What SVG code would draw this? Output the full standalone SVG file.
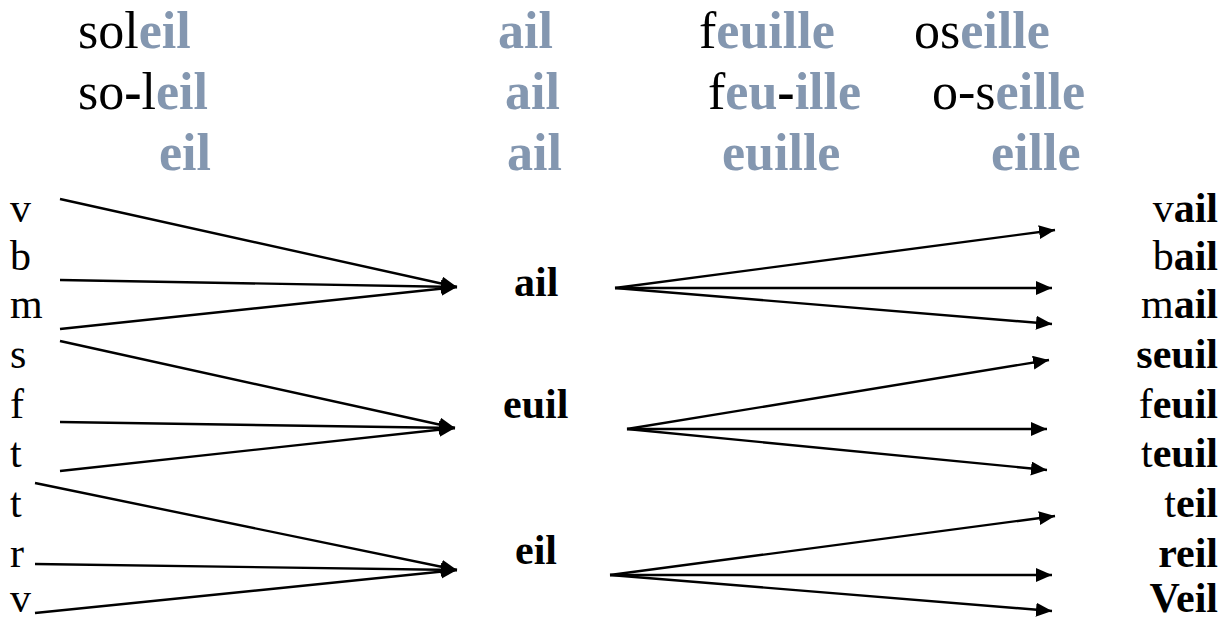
<svg xmlns="http://www.w3.org/2000/svg" width="1229" height="619" viewBox="0 0 1229 619" font-family="'Liberation Serif', Tinos, 'Times New Roman', 'DejaVu Serif', serif">
<style>
text{font-family:'Liberation Serif',Tinos,'Times New Roman','DejaVu Serif',serif;fill:#000}
.h{font-size:52px}
.g{fill:#8497B0;font-weight:bold}
.b{font-weight:bold}
.l{font-size:42px}
.r{font-size:42px;text-anchor:end}
.m{font-size:42px;font-weight:bold}
.c{stroke:#000;stroke-width:2.4;fill:none;marker-end:url(#ah)}
</style>
<defs>
<marker id="ah" markerUnits="userSpaceOnUse" markerWidth="17" markerHeight="15" refX="16" refY="7" orient="auto"><path d="M0,0 L16,7 L0,14 z" fill="#000"/></marker>
</defs>
<g id="header">
<text class="h" x="78" y="48">sol<tspan class="g">eil</tspan></text>
<text class="h" x="498" y="48"><tspan class="g">ail</tspan></text>
<text class="h" x="699" y="48">f<tspan class="g">euille</tspan></text>
<text class="h" x="914" y="48">os<tspan class="g">eille</tspan></text>
<text class="h" x="78" y="109">so<tspan class="b">-</tspan>l<tspan class="g">eil</tspan></text>
<text class="h" x="505" y="109"><tspan class="g">ail</tspan></text>
<text class="h" x="708" y="109">f<tspan class="g">eu</tspan><tspan class="b">-</tspan><tspan class="g">ille</tspan></text>
<text class="h" x="932" y="109">o-s<tspan class="g">eille</tspan></text>
<text class="h" x="159" y="170"><tspan class="g">eil</tspan></text>
<text class="h" x="507" y="170"><tspan class="g">ail</tspan></text>
<text class="h" x="722" y="170"><tspan class="g">euille</tspan></text>
<text class="h" x="991" y="170"><tspan class="g">eille</tspan></text>
</g>
<g id="left">
<text class="l" x="10" y="222">v</text>
<text class="l" x="10" y="270">b</text>
<text class="l" x="10" y="318">m</text>
<text class="l" x="10" y="368">s</text>
<text class="l" x="10" y="418">f</text>
<text class="l" x="10" y="467">t</text>
<text class="l" x="10" y="517">t</text>
<text class="l" x="10" y="567">r</text>
<text class="l" x="10" y="612">v</text>
</g>
<g id="mid-ail"><text class="m" x="514" y="296">ail</text></g>
<g id="mid-euil"><text class="m" x="503" y="418">euil</text></g>
<g id="mid-eil"><text class="m" x="515" y="564">eil</text></g>
<g id="right">
<text class="r" x="1218" y="222">v<tspan class="b">ail</tspan></text>
<text class="r" x="1218" y="270">b<tspan class="b">ail</tspan></text>
<text class="r" x="1218" y="318">m<tspan class="b">ail</tspan></text>
<text class="r" x="1218" y="368"><tspan class="b">seuil</tspan></text>
<text class="r" x="1218" y="418">f<tspan class="b">euil</tspan></text>
<text class="r" x="1218" y="467">t<tspan class="b">euil</tspan></text>
<text class="r" x="1218" y="517">t<tspan class="b">eil</tspan></text>
<text class="r" x="1218" y="567"><tspan class="b">reil</tspan></text>
<text class="r" x="1218" y="612"><tspan class="b">Veil</tspan></text>
</g>
<g id="connectors">
<line class="c" x1="60" y1="199" x2="457" y2="287"/>
<line class="c" x1="60" y1="280" x2="457" y2="287"/>
<line class="c" x1="60" y1="329" x2="457" y2="287"/>
<line class="c" x1="60" y1="341" x2="455" y2="428"/>
<line class="c" x1="60" y1="422" x2="455" y2="428"/>
<line class="c" x1="60" y1="471" x2="455" y2="428"/>
<line class="c" x1="35" y1="483" x2="457" y2="570"/>
<line class="c" x1="35" y1="564" x2="457" y2="570"/>
<line class="c" x1="35" y1="613" x2="457" y2="570"/>
<line class="c" x1="615" y1="288" x2="1055" y2="230"/>
<line class="c" x1="615" y1="288" x2="1052" y2="288"/>
<line class="c" x1="615" y1="288" x2="1052" y2="324"/>
<line class="c" x1="627" y1="429" x2="1049" y2="360"/>
<line class="c" x1="627" y1="429" x2="1047" y2="429"/>
<line class="c" x1="627" y1="429" x2="1047" y2="470"/>
<line class="c" x1="610" y1="575" x2="1055" y2="516"/>
<line class="c" x1="610" y1="575" x2="1052" y2="575"/>
<line class="c" x1="610" y1="575" x2="1052" y2="611"/>
</g>
</svg>
